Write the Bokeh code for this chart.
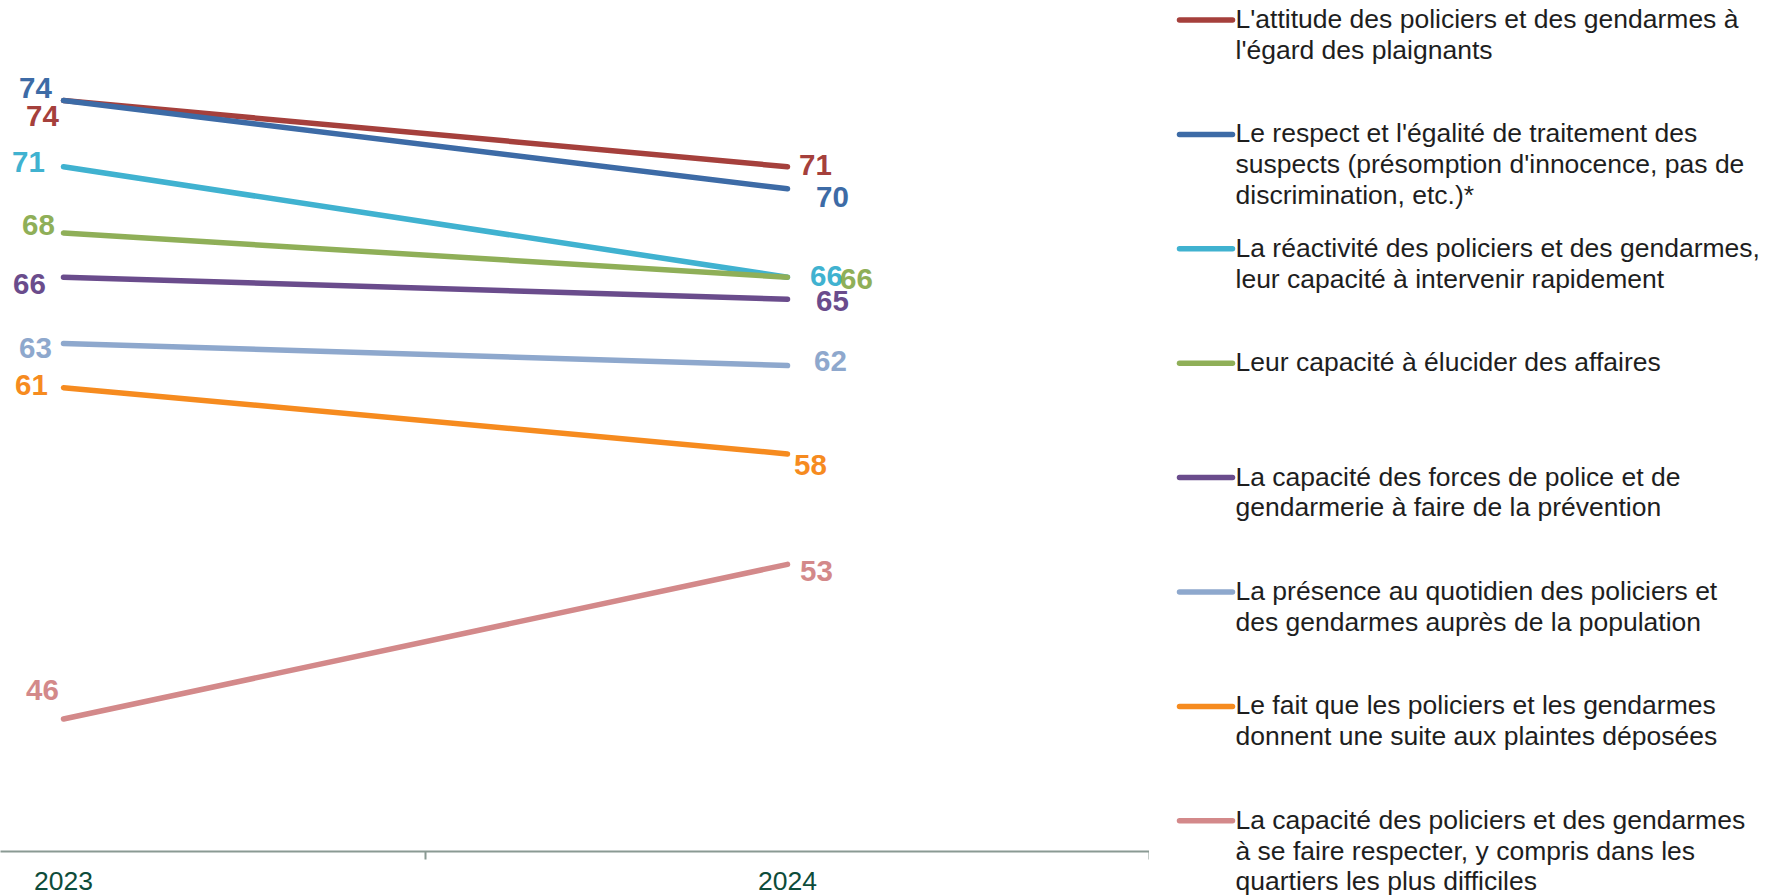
from bokeh.plotting import figure
from bokeh.layouts import row
from bokeh.models import ColumnDataSource, FixedTicker, Range1d
from bokeh.core.properties import value
from bokeh.embed import file_html
from bokeh.resources import INLINE

# ---------------- data ----------------
years = ["2023", "2024"]
series_labels = [
    "L'attitude des policiers et des gendarmes à\nl'égard des plaignants",
    "Le respect et l'égalité de traitement des\nsuspects (présomption d'innocence, pas de\ndiscrimination, etc.)*",
    "La réactivité des policiers et des gendarmes,\nleur capacité à intervenir rapidement",
    "Leur capacité à élucider des affaires",
    "La capacité des forces de police et de\ngendarmerie à faire de la prévention",
    "La présence au quotidien des policiers et\ndes gendarmes auprès de la population",
    "Le fait que les policiers et les gendarmes\ndonnent une suite aux plaintes déposées",
    "La capacité des policiers et des gendarmes\nà se faire respecter, y compris dans les\nquartiers les plus difficiles",
]
values_2023 = [74, 74, 71, 68, 66, 63, 61, 46]
values_2024 = [71, 70, 66, 66, 65, 62, 58, 53]

# ---------------- style ----------------
colors = ["#A5403C", "#3D6BA6", "#40B2D0", "#8FAF58",
          "#6A4C8C", "#8EA8CD", "#F68B1F", "#D3898A"]
# pixel offsets of the value labels (dx, dy) relative to their point
off_2023 = [(-21, 16), (-28, -12), (-35, -5), (-25, -8), (-34, 7), (-28, 5), (-32, -3), (-21, -29)]
off_2024 = [(28, -2), (45, 8), (39, -1), (69, 2), (45, 2), (43, -5), (23, 11), (29, 7)]

FONT = "Liberation Sans"
AXIS_COLOR = "#8A9A93"
TICK_LABEL_COLOR = "#0D4C3A"

FRAME_W, FRAME_H = 1149, 851
LEG_W, LEG_H = 639, 896

xs = list(range(len(years)))

p = figure(frame_width=FRAME_W, frame_height=FRAME_H,
           x_range=Range1d(-0.08702, 1.5), y_range=Range1d(40, 78.527),
           output_backend="svg", toolbar_location=None,
           y_axis_location=None,
           min_border_left=0, min_border_right=0, min_border_top=0, min_border_bottom=45)
p.outline_line_color = None
p.xgrid.visible = False
p.ygrid.visible = False
p.background_fill_color = "white"
p.border_fill_color = "white"

ax = p.xaxis[0]
ax.ticker = FixedTicker(ticks=xs, minor_ticks=[x + 0.5 for x in xs])
ax.major_label_overrides = {x: y for x, y in zip(xs, years)}
ax.major_tick_out = 0
ax.major_tick_in = 0
ax.minor_tick_out = 8
ax.minor_tick_in = 0
ax.minor_tick_line_color = AXIS_COLOR
ax.minor_tick_line_width = 2
ax.axis_line_color = AXIS_COLOR
ax.axis_line_width = 2
ax.major_label_text_font = FONT
ax.major_label_text_font_size = "26.5px"
ax.major_label_text_color = TICK_LABEL_COLOR
ax.major_label_standoff = 12

for i in range(len(series_labels)):
    p.line(x=xs, y=[values_2023[i], values_2024[i]], line_color=colors[i],
           line_width=5.5, line_cap="round")

lab = dict(x=[], y=[], text=[], color=[], xo=[], yo=[])
for i in range(len(series_labels)):
    for x, v, off in ((xs[0], values_2023[i], off_2023[i]), (xs[1], values_2024[i], off_2024[i])):
        lab["x"].append(x)
        lab["y"].append(v)
        lab["text"].append(str(v))
        lab["color"].append(colors[i])
        lab["xo"].append(off[0])
        lab["yo"].append(off[1])
p.text(x="x", y="y", text="text", source=ColumnDataSource(lab),
       text_color="color", x_offset="xo", y_offset="yo",
       text_align="center", text_baseline="middle",
       text_font=value(FONT), text_font_style="bold", text_font_size="29.5px")

# ---------------- legend (drawn in pixel space) ----------------
lg = figure(frame_width=LEG_W, frame_height=LEG_H,
            x_range=Range1d(0, LEG_W), y_range=Range1d(LEG_H, 0),
            output_backend="svg", toolbar_location=None,
            x_axis_location=None, y_axis_location=None,
            min_border_left=0, min_border_right=0, min_border_top=0, min_border_bottom=0)
lg.outline_line_color = None
lg.xgrid.visible = False
lg.ygrid.visible = False

ENTRY_Y0, ENTRY_STEP, LINE_H = 19.5, 114.4, 30.8
SW_X0, SW_X1, TXT_X = 30, 83, 86
leg_txt = dict(x=[], y=[], text=[])
for i, lbl in enumerate(series_labels):
    y0 = ENTRY_Y0 + ENTRY_STEP * i
    lg.line(x=[SW_X0, SW_X1], y=[y0, y0], line_color=colors[i], line_width=5.5, line_cap="round")
    for j, ln in enumerate(lbl.split("\n")):
        leg_txt["x"].append(TXT_X)
        leg_txt["y"].append(y0 - 1 + j * LINE_H)
        leg_txt["text"].append(ln)
lg.text(x="x", y="y", text="text", source=ColumnDataSource(leg_txt),
        text_color="#1E1E1E", text_align="left", text_baseline="middle",
        text_font=value(FONT), text_font_size="26.5px")

layout = row(p, lg, spacing=0)
open("out.html", "w").write(file_html(layout, INLINE))
